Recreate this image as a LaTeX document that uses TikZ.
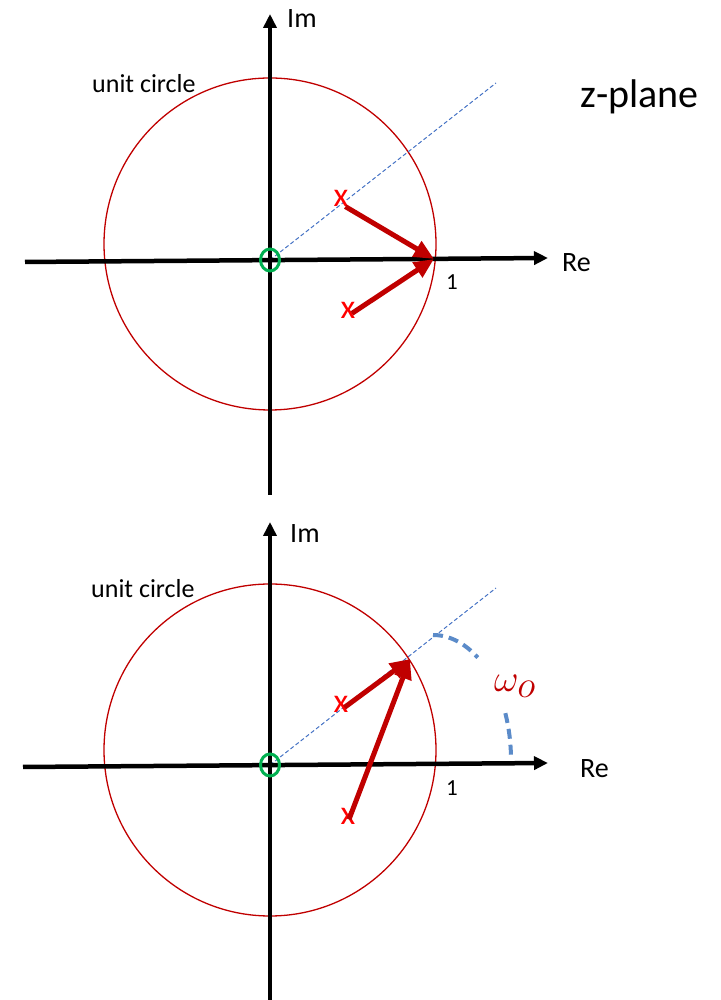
\documentclass[tikz,border=0pt]{standalone}
\usepackage{fix-cm}
\usepackage{fontspec}
\setmainfont{Carlito}
\usetikzlibrary{arrows.meta}
\definecolor{polered}{HTML}{FF0000}
\definecolor{vecred}{HTML}{C00000}
\definecolor{zerogreen}{HTML}{00B050}
\definecolor{rayblue}{HTML}{4472C4}
\definecolor{arcblue}{HTML}{5B8BC9}

\begin{document}
\begin{tikzpicture}[x=1pt,y=1pt,
     axis/.style={line width=4.5pt,-{Triangle[length=14pt,width=13pt]}},
     ucirc/.style={draw=vecred,line width=1.3pt},
     ray/.style={rayblue,line width=1pt,dash pattern=on 4pt off 2.5pt},
     vec/.style={vecred,line width=5pt,-{Triangle[length=20pt,width=17pt]}},
     pole/.style={text=polered,font=\fontsize{34}{34}\selectfont,inner sep=0pt,text height=1ex,text depth=0pt},
     zero/.style={zerogreen,line width=3pt},
     wdash/.style={arcblue,line width=4pt,dash pattern=on 10pt off 6pt},
     lbl/.style={font=\fontsize{28}{28}\selectfont,anchor=base west,inner sep=0pt},
     small/.style={font=\fontsize{26}{26}\selectfont,anchor=base west,inner sep=0pt}]
    \useasboundingbox (0,0) rectangle (720,1000);
    \coordinate (o1) at (270,740); \coordinate (c1) at (270,756);
    \coordinate (xl1) at (25,738); \coordinate (xr1) at (548,742);
    \coordinate (yb1) at (270,505); \coordinate (yt1) at (270,986);
    \coordinate (t1) at (434,741); \coordinate (r1) at (496,917);
    \draw[ucirc] (c1) circle[radius=166];
    \draw[ray] (o1) -- (r1);
    \draw[axis] (xl1) -- (xr1); \draw[axis] (yb1) -- (yt1);
    \node[pole](p1) at (341,796){x}; \node[pole](q1) at (348,684){x};
    \foreach \i in {p1,q1}{\draw[vec](\i)--(t1);}
    \draw[zero] (o1) ellipse[x radius=9.5,y radius=11];
    \node[lbl](im1) at (287,972){Im}; \node[lbl](re1) at (562,728){Re};
    \node[small,font=\fontsize{23}{23}\selectfont](one1) at (446,710){1};
    \node[small](uc1) at (92,907){unit circle};
    \node[lbl,font=\fontsize{40}{40}\selectfont](zp) at (580,892){z-plane};
    \coordinate (o2) at (270,235); \coordinate (c2) at (270,250);
    \coordinate (xl2) at (23,233); \coordinate (xr2) at (548,237);
    \coordinate (yb2) at (270,0); \coordinate (yt2) at (270,478);
    \coordinate (t2) at (410,341); \coordinate (r2) at (496,412);
    \coordinate (ac) at (433,240);
    \draw[ucirc] (c2) circle[radius=166];
    \draw[ray] (o2) -- (r2);
    \draw[axis] (xl2) -- (xr2); \draw[axis] (yb2) -- (yt2);
    \node[pole](p2) at (341,290){x}; \node[pole](q2) at (348,178){x};
    \foreach \i in {p2,q2}{\draw[vec](\i)--(t2);}
    \draw[zero] (o2) ellipse[x radius=9.5,y radius=11];
    \draw[wdash] ([shift={(90:78 and 125)}]ac) arc[start angle=90,end angle=55,x radius=78,y radius=125];
    \draw[wdash] ([shift={(22:78 and 125)}]ac) arc[start angle=22,end angle=0,x radius=78,y radius=125];
    \node[lbl,text=vecred,font=\fontsize{38}{38}\selectfont](w0) at (494,308){$\omega_{\textstyle o}$};
    \node[lbl](im2) at (290,457){Im}; \node[lbl](re2) at (580,222){Re};
    \node[small,font=\fontsize{23}{23}\selectfont](one2) at (446,204){1};
    \node[small](uc2) at (91,402){unit circle};
  \end{tikzpicture}
\end{document}
